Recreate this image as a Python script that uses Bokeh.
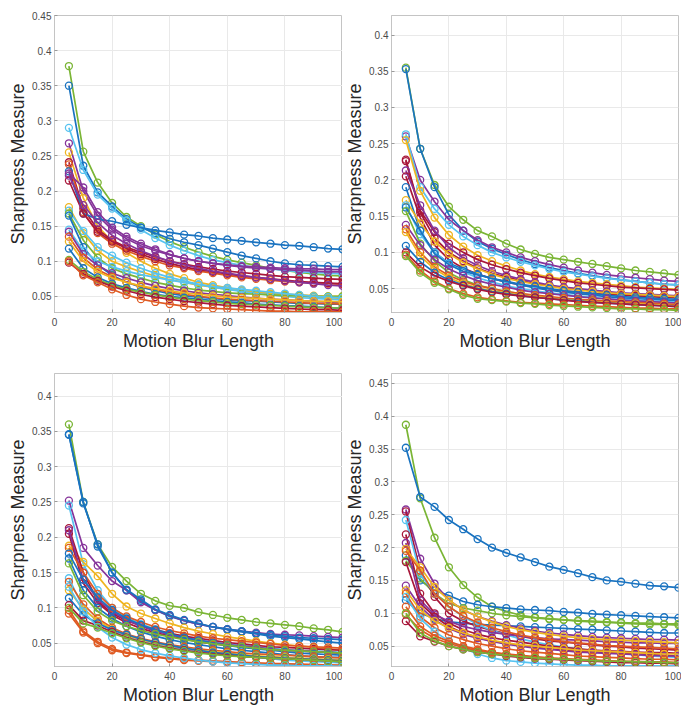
from bokeh.plotting import figure
from bokeh.layouts import column, row
from bokeh.models import FixedTicker, Range1d
from bokeh.embed import file_html
from bokeh.resources import INLINE

BLUR_LENGTH = [5, 10, 15, 20, 25, 30, 35, 40, 45, 50, 55, 60, 65, 70, 75, 80, 85, 90, 95, 100]

PALETTE = {
    "blue": "#1a73c0", "orange": "#df5a22", "yellow": "#efb521", "purple": "#86349a",
    "green": "#7ab535", "cyan": "#57c3f0", "red": "#a8173a",
}

X_TICKS = [0, 20, 40, 60, 80, 100]

# ---------------- panel 1 (top left) ----------------
P1_COLORS = ["green", "blue", "cyan", "purple", "yellow", "red", "orange", "blue", "purple", "red",
             "purple", "yellow", "cyan", "green", "blue", "cyan", "purple", "orange", "yellow", "blue",
             "green", "red", "orange"]
P1_VALUES = [
    [0.378, 0.256, 0.212, 0.183, 0.163, 0.150, 0.138, 0.128, 0.120, 0.113, 0.107, 0.102, 0.098, 0.094, 0.090, 0.087, 0.084, 0.082, 0.080, 0.079],
    [0.350, 0.236, 0.198, 0.178, 0.160, 0.148, 0.140, 0.132, 0.127, 0.123, 0.118, 0.113, 0.108, 0.104, 0.100, 0.097, 0.095, 0.094, 0.093, 0.092],
    [0.290, 0.230, 0.195, 0.175, 0.158, 0.145, 0.133, 0.123, 0.115, 0.108, 0.102, 0.098, 0.094, 0.091, 0.089, 0.087, 0.085, 0.084, 0.083, 0.082],
    [0.268, 0.200, 0.165, 0.145, 0.132, 0.122, 0.115, 0.109, 0.104, 0.100, 0.097, 0.095, 0.093, 0.092, 0.091, 0.090, 0.089, 0.089, 0.088, 0.088],
    [0.255, 0.190, 0.150, 0.128, 0.112, 0.100, 0.090, 0.082, 0.076, 0.070, 0.066, 0.062, 0.059, 0.056, 0.054, 0.052, 0.050, 0.049, 0.048, 0.047],
    [0.241, 0.175, 0.145, 0.130, 0.120, 0.113, 0.106, 0.100, 0.096, 0.092, 0.089, 0.086, 0.084, 0.082, 0.080, 0.078, 0.077, 0.076, 0.075, 0.074],
    [0.238, 0.170, 0.140, 0.125, 0.115, 0.107, 0.100, 0.094, 0.090, 0.086, 0.083, 0.080, 0.077, 0.075, 0.073, 0.071, 0.070, 0.069, 0.068, 0.067],
    [0.228, 0.168, 0.160, 0.157, 0.152, 0.148, 0.144, 0.141, 0.138, 0.136, 0.133, 0.131, 0.129, 0.127, 0.125, 0.123, 0.122, 0.120, 0.118, 0.117],
    [0.225, 0.205, 0.170, 0.148, 0.135, 0.125, 0.117, 0.110, 0.104, 0.100, 0.097, 0.094, 0.092, 0.090, 0.089, 0.088, 0.087, 0.086, 0.085, 0.085],
    [0.215, 0.168, 0.142, 0.128, 0.118, 0.110, 0.103, 0.097, 0.092, 0.088, 0.085, 0.082, 0.079, 0.077, 0.075, 0.073, 0.071, 0.070, 0.069, 0.068],
    [0.222, 0.180, 0.155, 0.137, 0.125, 0.115, 0.107, 0.100, 0.095, 0.090, 0.086, 0.083, 0.080, 0.077, 0.075, 0.072, 0.070, 0.068, 0.066, 0.065],
    [0.177, 0.140, 0.115, 0.100, 0.092, 0.085, 0.079, 0.074, 0.070, 0.066, 0.063, 0.060, 0.058, 0.056, 0.054, 0.053, 0.052, 0.051, 0.050, 0.050],
    [0.172, 0.143, 0.120, 0.108, 0.098, 0.090, 0.083, 0.077, 0.072, 0.067, 0.063, 0.060, 0.057, 0.054, 0.052, 0.050, 0.048, 0.047, 0.046, 0.045],
    [0.168, 0.130, 0.105, 0.090, 0.082, 0.076, 0.070, 0.066, 0.062, 0.059, 0.057, 0.055, 0.054, 0.053, 0.052, 0.051, 0.051, 0.050, 0.050, 0.050],
    [0.165, 0.120, 0.095, 0.080, 0.070, 0.063, 0.058, 0.054, 0.051, 0.049, 0.047, 0.045, 0.044, 0.043, 0.042, 0.041, 0.040, 0.040, 0.039, 0.039],
    [0.145, 0.115, 0.100, 0.092, 0.086, 0.081, 0.077, 0.073, 0.070, 0.067, 0.064, 0.062, 0.060, 0.058, 0.056, 0.054, 0.052, 0.050, 0.049, 0.048],
    [0.142, 0.110, 0.094, 0.083, 0.076, 0.070, 0.065, 0.061, 0.058, 0.055, 0.053, 0.051, 0.049, 0.047, 0.046, 0.045, 0.044, 0.043, 0.042, 0.041],
    [0.135, 0.105, 0.088, 0.078, 0.070, 0.064, 0.060, 0.056, 0.053, 0.050, 0.048, 0.046, 0.045, 0.044, 0.043, 0.042, 0.041, 0.040, 0.040, 0.039],
    [0.128, 0.100, 0.085, 0.076, 0.070, 0.065, 0.061, 0.058, 0.055, 0.053, 0.051, 0.049, 0.048, 0.047, 0.046, 0.045, 0.044, 0.043, 0.043, 0.042],
    [0.118, 0.090, 0.077, 0.068, 0.062, 0.057, 0.053, 0.050, 0.048, 0.046, 0.044, 0.042, 0.041, 0.039, 0.038, 0.037, 0.036, 0.035, 0.034, 0.033],
    [0.102, 0.085, 0.074, 0.066, 0.060, 0.056, 0.052, 0.049, 0.046, 0.044, 0.042, 0.040, 0.039, 0.038, 0.037, 0.036, 0.035, 0.034, 0.034, 0.033],
    [0.098, 0.082, 0.072, 0.064, 0.058, 0.053, 0.049, 0.046, 0.043, 0.041, 0.039, 0.037, 0.036, 0.035, 0.034, 0.033, 0.032, 0.031, 0.031, 0.030],
    [0.100, 0.080, 0.070, 0.060, 0.052, 0.046, 0.042, 0.039, 0.036, 0.034, 0.033, 0.032, 0.031, 0.030, 0.029, 0.029, 0.028, 0.028, 0.028, 0.028],
]
P1_Y_TICKS = [0.05, 0.1, 0.15, 0.2, 0.25, 0.3, 0.35, 0.4, 0.45]
P1_Y_RANGE = (0.027, 0.45)

# ---------------- panel 2 (top right) ----------------
P2_COLORS = ["green", "blue", "purple", "cyan", "yellow", "red", "red", "purple", "red", "blue",
             "yellow", "cyan", "blue", "green", "purple", "orange", "yellow", "blue", "red", "orange",
             "green"]
P2_VALUES = [
    [0.355, 0.243, 0.193, 0.163, 0.145, 0.130, 0.122, 0.112, 0.104, 0.098, 0.093, 0.090, 0.087, 0.084, 0.081, 0.078, 0.075, 0.073, 0.071, 0.069],
    [0.353, 0.243, 0.190, 0.152, 0.130, 0.115, 0.105, 0.097, 0.090, 0.084, 0.079, 0.075, 0.071, 0.068, 0.065, 0.062, 0.060, 0.058, 0.056, 0.055],
    [0.260, 0.200, 0.170, 0.145, 0.130, 0.117, 0.107, 0.100, 0.093, 0.088, 0.083, 0.079, 0.075, 0.072, 0.069, 0.067, 0.065, 0.063, 0.061, 0.060],
    [0.263, 0.190, 0.160, 0.138, 0.122, 0.110, 0.100, 0.093, 0.087, 0.082, 0.077, 0.073, 0.070, 0.067, 0.064, 0.062, 0.060, 0.058, 0.056, 0.055],
    [0.255, 0.185, 0.148, 0.124, 0.108, 0.096, 0.088, 0.081, 0.075, 0.070, 0.066, 0.063, 0.060, 0.058, 0.056, 0.054, 0.052, 0.051, 0.050, 0.049],
    [0.228, 0.158, 0.128, 0.112, 0.100, 0.090, 0.083, 0.077, 0.072, 0.068, 0.064, 0.061, 0.058, 0.056, 0.054, 0.052, 0.051, 0.050, 0.049, 0.048],
    [0.226, 0.155, 0.120, 0.100, 0.088, 0.078, 0.071, 0.066, 0.061, 0.057, 0.054, 0.051, 0.049, 0.047, 0.045, 0.043, 0.042, 0.041, 0.040, 0.039],
    [0.213, 0.165, 0.130, 0.107, 0.092, 0.082, 0.074, 0.068, 0.063, 0.059, 0.055, 0.052, 0.050, 0.048, 0.046, 0.044, 0.043, 0.042, 0.041, 0.040],
    [0.205, 0.148, 0.110, 0.090, 0.078, 0.070, 0.064, 0.059, 0.055, 0.052, 0.049, 0.047, 0.045, 0.043, 0.042, 0.041, 0.040, 0.039, 0.038, 0.037],
    [0.190, 0.130, 0.100, 0.085, 0.077, 0.070, 0.064, 0.059, 0.055, 0.051, 0.048, 0.045, 0.043, 0.041, 0.039, 0.037, 0.036, 0.035, 0.034, 0.033],
    [0.172, 0.140, 0.115, 0.098, 0.086, 0.077, 0.070, 0.064, 0.060, 0.056, 0.053, 0.050, 0.048, 0.046, 0.044, 0.043, 0.042, 0.041, 0.040, 0.039],
    [0.165, 0.125, 0.100, 0.084, 0.073, 0.065, 0.059, 0.054, 0.050, 0.047, 0.044, 0.042, 0.040, 0.038, 0.036, 0.035, 0.034, 0.033, 0.032, 0.031],
    [0.162, 0.130, 0.098, 0.083, 0.074, 0.069, 0.064, 0.060, 0.056, 0.053, 0.050, 0.047, 0.045, 0.043, 0.041, 0.039, 0.038, 0.037, 0.036, 0.035],
    [0.157, 0.112, 0.088, 0.072, 0.062, 0.055, 0.050, 0.046, 0.043, 0.040, 0.038, 0.036, 0.034, 0.032, 0.031, 0.030, 0.029, 0.028, 0.027, 0.026],
    [0.138, 0.110, 0.090, 0.077, 0.068, 0.061, 0.056, 0.052, 0.048, 0.045, 0.043, 0.041, 0.039, 0.037, 0.036, 0.034, 0.033, 0.032, 0.031, 0.030],
    [0.132, 0.100, 0.080, 0.068, 0.060, 0.054, 0.050, 0.046, 0.043, 0.041, 0.039, 0.037, 0.035, 0.034, 0.033, 0.032, 0.031, 0.030, 0.029, 0.028],
    [0.128, 0.095, 0.077, 0.065, 0.057, 0.051, 0.047, 0.044, 0.041, 0.039, 0.037, 0.035, 0.033, 0.032, 0.031, 0.030, 0.029, 0.028, 0.027, 0.026],
    [0.109, 0.087, 0.072, 0.062, 0.055, 0.050, 0.046, 0.043, 0.040, 0.038, 0.036, 0.034, 0.033, 0.031, 0.030, 0.029, 0.028, 0.027, 0.026, 0.025],
    [0.100, 0.080, 0.068, 0.060, 0.054, 0.049, 0.045, 0.042, 0.040, 0.038, 0.036, 0.034, 0.032, 0.031, 0.030, 0.029, 0.028, 0.027, 0.026, 0.025],
    [0.097, 0.075, 0.060, 0.050, 0.043, 0.038, 0.035, 0.033, 0.031, 0.030, 0.029, 0.028, 0.027, 0.026, 0.025, 0.024, 0.023, 0.023, 0.022, 0.022],
    [0.095, 0.072, 0.058, 0.049, 0.041, 0.036, 0.034, 0.032, 0.030, 0.029, 0.027, 0.026, 0.025, 0.024, 0.023, 0.022, 0.022, 0.021, 0.021, 0.020],
]
P2_Y_TICKS = [0.05, 0.1, 0.15, 0.2, 0.25, 0.3, 0.35, 0.4]
P2_Y_RANGE = (0.017, 0.427)

# ---------------- panel 3 (bottom left) ----------------
P3_COLORS = ["green", "blue", "purple", "blue", "cyan", "yellow", "red", "red", "purple", "orange",
             "blue", "blue", "green", "cyan", "orange", "yellow", "blue", "red", "orange", "orange",
             "cyan", "green"]
P3_VALUES = [
    [0.360, 0.250, 0.190, 0.158, 0.138, 0.120, 0.110, 0.103, 0.100, 0.094, 0.090, 0.086, 0.083, 0.080, 0.078, 0.076, 0.074, 0.071, 0.069, 0.066],
    [0.346, 0.250, 0.187, 0.150, 0.125, 0.110, 0.097, 0.088, 0.082, 0.077, 0.073, 0.069, 0.066, 0.063, 0.060, 0.058, 0.056, 0.054, 0.052, 0.050],
    [0.252, 0.185, 0.160, 0.138, 0.125, 0.108, 0.097, 0.089, 0.082, 0.077, 0.073, 0.070, 0.067, 0.065, 0.063, 0.062, 0.061, 0.060, 0.059, 0.058],
    [0.345, 0.248, 0.190, 0.150, 0.126, 0.112, 0.098, 0.090, 0.083, 0.078, 0.073, 0.070, 0.067, 0.064, 0.062, 0.060, 0.058, 0.057, 0.056, 0.055],
    [0.245, 0.162, 0.125, 0.100, 0.087, 0.077, 0.070, 0.064, 0.059, 0.055, 0.052, 0.049, 0.047, 0.045, 0.043, 0.041, 0.040, 0.039, 0.038, 0.037],
    [0.188, 0.165, 0.145, 0.120, 0.102, 0.092, 0.085, 0.078, 0.072, 0.067, 0.063, 0.059, 0.056, 0.053, 0.050, 0.048, 0.046, 0.044, 0.042, 0.040],
    [0.213, 0.150, 0.110, 0.092, 0.082, 0.075, 0.069, 0.064, 0.060, 0.057, 0.054, 0.051, 0.049, 0.047, 0.045, 0.044, 0.043, 0.042, 0.041, 0.040],
    [0.205, 0.135, 0.107, 0.090, 0.079, 0.071, 0.065, 0.060, 0.056, 0.052, 0.049, 0.047, 0.045, 0.043, 0.041, 0.040, 0.039, 0.038, 0.037, 0.036],
    [0.210, 0.140, 0.112, 0.095, 0.083, 0.074, 0.067, 0.062, 0.058, 0.054, 0.051, 0.048, 0.046, 0.044, 0.042, 0.040, 0.039, 0.038, 0.037, 0.036],
    [0.185, 0.150, 0.120, 0.100, 0.088, 0.080, 0.073, 0.068, 0.064, 0.060, 0.057, 0.055, 0.053, 0.051, 0.049, 0.047, 0.046, 0.045, 0.044, 0.043],
    [0.177, 0.140, 0.115, 0.097, 0.085, 0.076, 0.069, 0.063, 0.058, 0.054, 0.050, 0.047, 0.044, 0.042, 0.040, 0.038, 0.036, 0.035, 0.034, 0.033],
    [0.170, 0.125, 0.100, 0.085, 0.074, 0.066, 0.060, 0.055, 0.051, 0.048, 0.045, 0.042, 0.040, 0.038, 0.036, 0.034, 0.032, 0.031, 0.030, 0.030],
    [0.163, 0.118, 0.095, 0.082, 0.074, 0.068, 0.063, 0.059, 0.055, 0.052, 0.049, 0.047, 0.045, 0.043, 0.041, 0.040, 0.039, 0.038, 0.037, 0.036],
    [0.142, 0.100, 0.080, 0.068, 0.060, 0.054, 0.049, 0.045, 0.042, 0.039, 0.036, 0.034, 0.032, 0.030, 0.028, 0.026, 0.025, 0.024, 0.023, 0.022],
    [0.137, 0.105, 0.085, 0.072, 0.063, 0.057, 0.052, 0.048, 0.045, 0.042, 0.040, 0.038, 0.036, 0.035, 0.034, 0.033, 0.032, 0.031, 0.030, 0.029],
    [0.125, 0.098, 0.082, 0.070, 0.061, 0.055, 0.050, 0.046, 0.043, 0.040, 0.038, 0.036, 0.034, 0.032, 0.031, 0.030, 0.029, 0.028, 0.027, 0.026],
    [0.114, 0.090, 0.078, 0.069, 0.062, 0.056, 0.051, 0.047, 0.043, 0.040, 0.037, 0.035, 0.033, 0.031, 0.030, 0.029, 0.028, 0.027, 0.026, 0.025],
    [0.104, 0.082, 0.075, 0.066, 0.058, 0.052, 0.047, 0.043, 0.040, 0.037, 0.035, 0.033, 0.031, 0.030, 0.029, 0.028, 0.027, 0.026, 0.025, 0.024],
    [0.097, 0.067, 0.052, 0.042, 0.037, 0.034, 0.031, 0.029, 0.027, 0.026, 0.025, 0.024, 0.023, 0.022, 0.021, 0.021, 0.020, 0.020, 0.019, 0.019],
    [0.092, 0.065, 0.050, 0.040, 0.036, 0.033, 0.030, 0.028, 0.026, 0.025, 0.024, 0.023, 0.022, 0.021, 0.021, 0.020, 0.020, 0.019, 0.019, 0.018],
    [0.130, 0.095, 0.073, 0.058, 0.048, 0.041, 0.036, 0.032, 0.029, 0.026, 0.024, 0.022, 0.021, 0.020, 0.019, 0.019, 0.018, 0.018, 0.018, 0.017],
    [0.100, 0.078, 0.072, 0.064, 0.057, 0.051, 0.046, 0.042, 0.039, 0.036, 0.034, 0.032, 0.031, 0.030, 0.029, 0.028, 0.027, 0.026, 0.025, 0.024],
]
P3_Y_TICKS = [0.05, 0.1, 0.15, 0.2, 0.25, 0.3, 0.35, 0.4]
P3_Y_RANGE = (0.017, 0.432)

# ---------------- panel 4 (bottom right) ----------------
P4_COLORS = ["green", "blue", "blue", "green", "blue", "purple", "red", "cyan", "red", "purple",
             "yellow", "orange", "red", "purple", "yellow", "orange", "cyan", "orange", "orange", "red",
             "green"]
P4_VALUES = [
    [0.387, 0.275, 0.215, 0.170, 0.143, 0.124, 0.110, 0.103, 0.097, 0.094, 0.092, 0.090, 0.088, 0.087, 0.086, 0.085, 0.084, 0.083, 0.083, 0.082],
    [0.352, 0.277, 0.262, 0.242, 0.228, 0.213, 0.200, 0.192, 0.185, 0.178, 0.171, 0.166, 0.161, 0.155, 0.150, 0.148, 0.145, 0.142, 0.141, 0.139],
    [0.188, 0.150, 0.135, 0.127, 0.118, 0.113, 0.110, 0.108, 0.106, 0.105, 0.104, 0.102, 0.101, 0.099, 0.098, 0.097, 0.096, 0.095, 0.094, 0.093],
    [0.180, 0.153, 0.130, 0.115, 0.108, 0.104, 0.100, 0.097, 0.095, 0.093, 0.091, 0.090, 0.089, 0.088, 0.087, 0.086, 0.085, 0.085, 0.084, 0.084],
    [0.120, 0.100, 0.092, 0.087, 0.085, 0.083, 0.082, 0.081, 0.080, 0.079, 0.078, 0.077, 0.076, 0.075, 0.074, 0.073, 0.072, 0.071, 0.070, 0.070],
    [0.258, 0.183, 0.145, 0.120, 0.105, 0.095, 0.088, 0.082, 0.077, 0.073, 0.070, 0.068, 0.066, 0.064, 0.063, 0.062, 0.061, 0.060, 0.060, 0.059],
    [0.255, 0.165, 0.125, 0.100, 0.088, 0.080, 0.074, 0.069, 0.065, 0.061, 0.058, 0.056, 0.054, 0.052, 0.050, 0.049, 0.047, 0.046, 0.045, 0.044],
    [0.242, 0.160, 0.130, 0.110, 0.095, 0.083, 0.074, 0.067, 0.061, 0.056, 0.052, 0.049, 0.046, 0.043, 0.041, 0.039, 0.037, 0.035, 0.034, 0.033],
    [0.220, 0.130, 0.100, 0.085, 0.075, 0.068, 0.063, 0.059, 0.056, 0.053, 0.050, 0.048, 0.046, 0.044, 0.043, 0.042, 0.041, 0.040, 0.040, 0.039],
    [0.207, 0.120, 0.098, 0.088, 0.080, 0.075, 0.071, 0.068, 0.065, 0.063, 0.061, 0.060, 0.059, 0.058, 0.057, 0.056, 0.055, 0.055, 0.054, 0.054],
    [0.198, 0.170, 0.140, 0.120, 0.105, 0.095, 0.087, 0.080, 0.075, 0.071, 0.068, 0.065, 0.063, 0.061, 0.060, 0.059, 0.058, 0.057, 0.056, 0.055],
    [0.195, 0.165, 0.130, 0.110, 0.096, 0.086, 0.078, 0.072, 0.067, 0.063, 0.060, 0.057, 0.055, 0.053, 0.051, 0.050, 0.049, 0.048, 0.047, 0.046],
    [0.178, 0.115, 0.095, 0.080, 0.070, 0.063, 0.058, 0.054, 0.051, 0.048, 0.046, 0.044, 0.042, 0.041, 0.040, 0.039, 0.038, 0.037, 0.036, 0.035],
    [0.142, 0.110, 0.090, 0.077, 0.068, 0.062, 0.057, 0.053, 0.050, 0.047, 0.045, 0.043, 0.041, 0.040, 0.039, 0.038, 0.037, 0.036, 0.035, 0.035],
    [0.135, 0.105, 0.088, 0.078, 0.070, 0.064, 0.059, 0.055, 0.052, 0.050, 0.048, 0.046, 0.044, 0.043, 0.042, 0.041, 0.040, 0.039, 0.038, 0.038],
    [0.130, 0.095, 0.078, 0.067, 0.060, 0.054, 0.050, 0.046, 0.043, 0.041, 0.039, 0.037, 0.035, 0.034, 0.033, 0.032, 0.031, 0.030, 0.030, 0.029],
    [0.125, 0.092, 0.072, 0.058, 0.047, 0.038, 0.032, 0.028, 0.026, 0.024, 0.023, 0.022, 0.021, 0.021, 0.020, 0.020, 0.020, 0.020, 0.020, 0.020],
    [0.110, 0.080, 0.066, 0.057, 0.050, 0.045, 0.041, 0.038, 0.036, 0.034, 0.032, 0.031, 0.030, 0.029, 0.028, 0.027, 0.027, 0.026, 0.026, 0.025],
    [0.098, 0.075, 0.062, 0.054, 0.048, 0.043, 0.040, 0.037, 0.035, 0.033, 0.031, 0.030, 0.029, 0.028, 0.027, 0.026, 0.026, 0.025, 0.025, 0.024],
    [0.088, 0.065, 0.057, 0.050, 0.045, 0.041, 0.038, 0.035, 0.033, 0.031, 0.030, 0.029, 0.028, 0.027, 0.026, 0.025, 0.025, 0.024, 0.024, 0.023],
    [0.100, 0.070, 0.058, 0.050, 0.045, 0.041, 0.038, 0.036, 0.034, 0.032, 0.031, 0.030, 0.029, 0.028, 0.027, 0.027, 0.026, 0.026, 0.025, 0.025],
]
P4_Y_TICKS = [0.05, 0.1, 0.15, 0.2, 0.25, 0.3, 0.35, 0.4, 0.45]
P4_Y_RANGE = (0.019, 0.465)

FONT = "Liberation Sans"


def make_panel(values, colors, y_range, y_ticks, width, height, border_left, border_right,
               border_top, border_bottom):
    p = figure(width=width, height=height, output_backend="svg", toolbar_location=None,
               x_range=Range1d(0, 100), y_range=Range1d(*y_range),
               min_border_left=border_left, min_border_right=border_right,
               min_border_top=border_top, min_border_bottom=border_bottom,
               background_fill_color="white", border_fill_color="white")
    p.outline_line_color = "#c4c4c4"
    p.outline_line_width = 1
    for ys, cname in zip(values, colors):
        col = PALETTE[cname]
        p.line(BLUR_LENGTH, ys, line_color=col, line_width=1.7)
        p.scatter(BLUR_LENGTH, ys, marker="circle", size=7, fill_color=None,
                  line_color=col, line_width=1.3)
    p.xaxis.ticker = FixedTicker(ticks=X_TICKS)
    p.yaxis.ticker = FixedTicker(ticks=y_ticks)
    p.yaxis.major_label_overrides = {t: ("%g" % t) for t in y_ticks}
    for ax in (p.xaxis, p.yaxis):
        ax.axis_line_color = "#c4c4c4"
        ax.major_tick_line_color = "#9a9a9a"
        ax.major_tick_in = 3
        ax.major_tick_out = 0
        ax.minor_tick_line_color = None
        ax.major_label_text_font = FONT
        ax.major_label_text_font_size = "10px"
        ax.major_label_text_color = "#4a4a4a"
        ax.axis_label_text_font = FONT
        ax.axis_label_text_font_size = "18px"
        ax.axis_label_text_font_style = "normal"
        ax.axis_label_text_color = "#262626"
    p.xaxis.axis_label = "Motion Blur Length"
    p.yaxis.axis_label = "Sharpness Measure"
    p.xaxis.major_label_standoff = 5
    p.xaxis.axis_label_standoff = 2
    p.yaxis.major_label_standoff = 3
    p.yaxis.axis_label_standoff = 1
    p.xgrid.grid_line_color = "#e9e9e9"
    p.ygrid.grid_line_color = "#e9e9e9"
    return p


p1 = make_panel(P1_VALUES, P1_COLORS, P1_Y_RANGE, P1_Y_TICKS, 342, 353, 54, 0, 15, 39)
p2 = make_panel(P2_VALUES, P2_COLORS, P2_Y_RANGE, P2_Y_TICKS, 339, 353, 48, 3, 15, 39)
p3 = make_panel(P3_VALUES, P3_COLORS, P3_Y_RANGE, P3_Y_TICKS, 342, 354, 54, 0, 20, 35)
p4 = make_panel(P4_VALUES, P4_COLORS, P4_Y_RANGE, P4_Y_TICKS, 339, 354, 48, 3, 20, 35)

layout = column(row(p1, p2), row(p3, p4))
open("out.html", "w").write(file_html(layout, INLINE))
